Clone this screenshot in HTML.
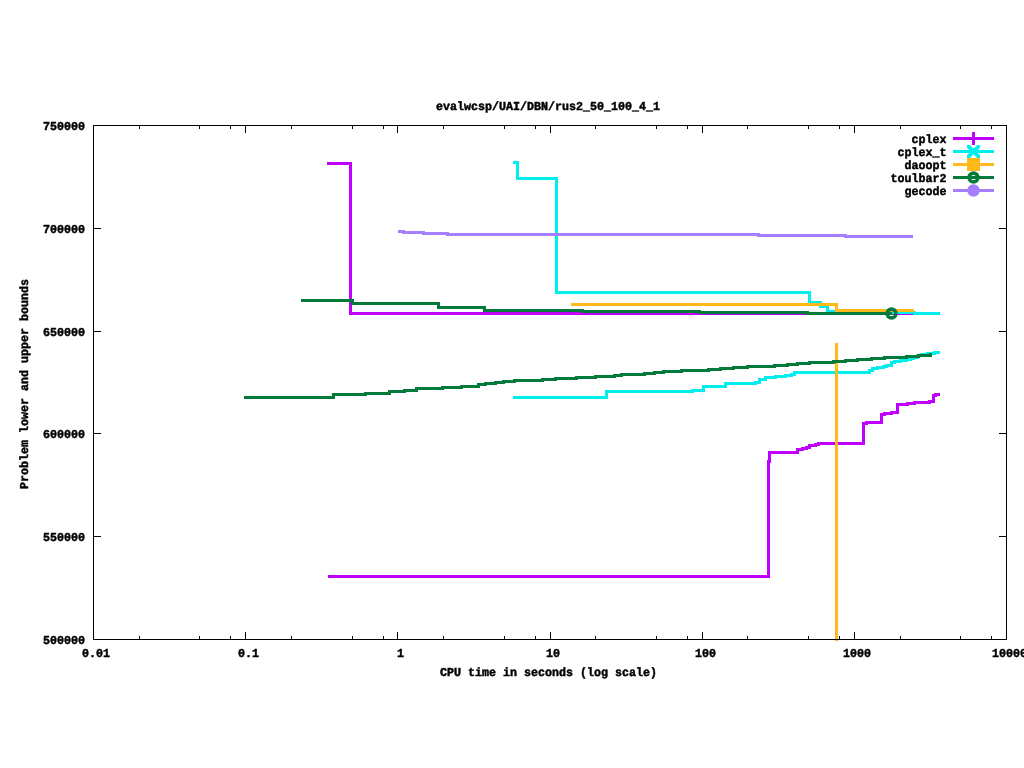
<!DOCTYPE html>
<html lang="en"><head><meta charset="utf-8"><title>evalwcsp/UAI/DBN/rus2_50_100_4_1</title>
<style>html,body{margin:0;padding:0;background:#fff;overflow:hidden}svg{display:block}text{font-family:"Liberation Mono","DejaVu Sans Mono",monospace;font-weight:bold;font-size:12px;fill:#000;stroke:#000;stroke-width:0.45px;text-rendering:geometricPrecision}.ln{fill:none;stroke-width:3;stroke-linejoin:miter;stroke-linecap:butt;shape-rendering:crispEdges}.ax{fill:#000;shape-rendering:crispEdges}</style></head><body>
<svg width="1024" height="768" viewBox="0 0 1024 768">
<rect width="1024" height="768" fill="#fff"/>
<path class="ln" stroke="#BF00FF" d="M327 163.5 H350.5 V313.5 H913"/>
<path class="ln" stroke="#BF00FF" d="M328 576.5 H768.5 V461.5 H769.5 V452.5 H797.5 V449.5 H802.5 V448.5 H806.5 V447.5 H809.5 V445.5 H815.5 V444.5 H818.5 V443.5 H863.5 V423.5 H866.5 V422.5 H881.5 V414.5 H884.5 V413.5 H891.5 V412.5 H897.5 V404.5 H907.5 V403.5 H914.5 V402.5 H929.5 V401.5 H933.5 V395.5 H935.5 V394.5 H940"/>
<path class="ln" stroke="#00EEEE" d="M513 162.5 H517.5 V178.5 H556.5 V292.5 H809.5 V302.5 H820.5 V306.5 H827.5 V311.5 H870 V312.5 H914.5 V313.5 H940"/>
<path class="ln" stroke="#00EEEE" d="M513 397.5 H606.5 V391.5 H692.5 V390.5 H703.5 V386.5 H725.5 V383.5 H755.5 V382.5 H759.5 V379.5 H765.5 V377.5 H775.5 V376.5 H785.5 V375.5 H791.5 V374.5 H794.5 V372.5 H869.5 V370.5 H872.5 V368.5 H877.5 V367.5 H883.5 V366.5 H886.5 V365.5 H891.5 V362.5 H894.5 V361.5 H900 V360.5 H906.5 V359.5 H910 V358.5 H913.5 V357.5 H917 V355.5 H921 V354.5 H927.5 V353.5 H934.5 V352.5 H940"/>
<path class="ln" stroke="#FFB91A" d="M571 304.5 H836.5 V310.5 H914"/>
<path class="ln" stroke="#FFB91A" d="M836.5 343 V641"/>
<path class="ln" stroke="#047A3A" d="M301 300.5 H352.5 V303.5 H438 V307.5 H484 V310.5 H582.5 V311.5 H699.5 V312.5 H807.5 V313.5 H891.5"/>
<path class="ln" stroke="#047A3A" d="M244 397.5 H333.5 V394.5 H365.5 V393.5 H389.5 V391.5 H404.5 V390.5 H416.5 V388.5 H442.5 V387.5 H461.5 V386.5 H478.5 V384.5 H485.5 V383.5 H495.5 V382.5 H503.5 V381.5 H514.5 V380.5 H542.5 V379.5 H555.5 V378.5 H576.5 V377.5 H595.5 V376.5 H614 V375.5 H621 V374.5 H644.5 V373.5 H654.5 V372.5 H663 V371.5 H681.5 V370.5 H708.5 V369.5 H720.5 V368.5 H733.5 V367.5 H747.5 V366.5 H774.5 V365.5 H787.5 V364.5 H797.5 V363.5 H809.5 V362.5 H833.5 V361.5 H845.5 V360.5 H857.5 V359.5 H871.5 V358.5 H884.5 V357.5 H906.5 V356.5 H918.5 V355.5 H930.5 V354.5 H932"/>
<circle cx="891.5" cy="313.5" r="4.4" fill="none" stroke="#047A3A" stroke-width="3.6"/>
<path class="ln" stroke="#A47FFF" d="M398 231.5 H403 V232.5 H423 V233.5 H447 V234.5 H758 V235.5 H845 V236.5 H913"/>
<path class="ln" stroke="#BF00FF" d="M953 138.5 H994"/>
<text x="911.5" y="143" textLength="35" lengthAdjust="spacingAndGlyphs">cplex</text>
<path class="ln" stroke="#00EEEE" d="M953 151.5 H994"/>
<text x="897.5" y="156" textLength="49" lengthAdjust="spacingAndGlyphs">cplex_t</text>
<path class="ln" stroke="#FFB91A" d="M953 164.5 H994"/>
<text x="904.5" y="169" textLength="42" lengthAdjust="spacingAndGlyphs">daoopt</text>
<path class="ln" stroke="#047A3A" d="M953 177.5 H994"/>
<text x="890.5" y="182" textLength="56" lengthAdjust="spacingAndGlyphs">toulbar2</text>
<path class="ln" stroke="#A47FFF" d="M953 190.5 H994"/>
<text x="904.5" y="195" textLength="42" lengthAdjust="spacingAndGlyphs">gecode</text>
<path class="ln" stroke="#BF00FF" d="M973.5 132 V145"/>
<clipPath id="xc"><rect x="967" y="145" width="13" height="13"/></clipPath>
<path clip-path="url(#xc)" fill="none" stroke="#00EEEE" stroke-width="4" d="M965.5 143.5 L981.5 159.5 M965.5 159.5 L981.5 143.5"/>
<rect class="ax" style="fill:#FFB91A" x="967" y="158" width="13" height="13"/>
<circle cx="973.5" cy="177.5" r="4.4" fill="none" stroke="#047A3A" stroke-width="3.6"/>
<circle cx="973.5" cy="190.5" r="6.2" fill="#A47FFF"/>
<path class="ax" d="M93 125 h914 v1 h-914 z M93 639 h914 v1 h-914 z M93 125 h1 v515 h-1 z M1006 125 h1 v515 h-1 z"/>
<path class="ax" d="M139 125 h1 v4 h-1 z M139 636 h1 v4 h-1 z M199 125 h1 v4 h-1 z M199 636 h1 v4 h-1 z M230 125 h1 v4 h-1 z M230 636 h1 v4 h-1 z M245 125 h1 v8 h-1 z M245 632 h1 v8 h-1 z M291 125 h1 v4 h-1 z M291 636 h1 v4 h-1 z M352 125 h1 v4 h-1 z M352 636 h1 v4 h-1 z M383 125 h1 v4 h-1 z M383 636 h1 v4 h-1 z M397 125 h1 v8 h-1 z M397 632 h1 v8 h-1 z M443 125 h1 v4 h-1 z M443 636 h1 v4 h-1 z M504 125 h1 v4 h-1 z M504 636 h1 v4 h-1 z M535 125 h1 v4 h-1 z M535 636 h1 v4 h-1 z M550 125 h1 v8 h-1 z M550 632 h1 v8 h-1 z M595 125 h1 v4 h-1 z M595 636 h1 v4 h-1 z M656 125 h1 v4 h-1 z M656 636 h1 v4 h-1 z M687 125 h1 v4 h-1 z M687 636 h1 v4 h-1 z M702 125 h1 v8 h-1 z M702 632 h1 v8 h-1 z M747 125 h1 v4 h-1 z M747 636 h1 v4 h-1 z M808 125 h1 v4 h-1 z M808 636 h1 v4 h-1 z M839 125 h1 v4 h-1 z M839 636 h1 v4 h-1 z M854 125 h1 v8 h-1 z M854 632 h1 v8 h-1 z M900 125 h1 v4 h-1 z M900 636 h1 v4 h-1 z M960 125 h1 v4 h-1 z M960 636 h1 v4 h-1 z M991 125 h1 v4 h-1 z M991 636 h1 v4 h-1 z M93 536 h8 v1 h-8 z M999 536 h8 v1 h-8 z M93 433 h8 v1 h-8 z M999 433 h8 v1 h-8 z M93 331 h8 v1 h-8 z M999 331 h8 v1 h-8 z M93 228 h8 v1 h-8 z M999 228 h8 v1 h-8 z"/>
<text x="43" y="644" textLength="42" lengthAdjust="spacingAndGlyphs">500000</text>
<text x="43" y="541" textLength="42" lengthAdjust="spacingAndGlyphs">550000</text>
<text x="43" y="438" textLength="42" lengthAdjust="spacingAndGlyphs">600000</text>
<text x="43" y="336" textLength="42" lengthAdjust="spacingAndGlyphs">650000</text>
<text x="43" y="233" textLength="42" lengthAdjust="spacingAndGlyphs">700000</text>
<text x="43" y="130" textLength="42" lengthAdjust="spacingAndGlyphs">750000</text>
<text x="82" y="657" textLength="28" lengthAdjust="spacingAndGlyphs">0.01</text>
<text x="238" y="657" textLength="21" lengthAdjust="spacingAndGlyphs">0.1</text>
<text x="397" y="657" textLength="7" lengthAdjust="spacingAndGlyphs">1</text>
<text x="546" y="657" textLength="14" lengthAdjust="spacingAndGlyphs">10</text>
<text x="695" y="657" textLength="21" lengthAdjust="spacingAndGlyphs">100</text>
<text x="843" y="657" textLength="28" lengthAdjust="spacingAndGlyphs">1000</text>
<text x="992" y="657" textLength="35" lengthAdjust="spacingAndGlyphs">10000</text>
<text x="436" y="110" textLength="224" lengthAdjust="spacingAndGlyphs">evalwcsp/UAI/DBN/rus2_50_100_4_1</text>
<text x="440" y="676" textLength="217" lengthAdjust="spacingAndGlyphs">CPU time in seconds (log scale)</text>
<text transform="translate(28 489) rotate(-90)" x="0" y="0" textLength="210" lengthAdjust="spacingAndGlyphs">Problem lower and upper bounds</text>
</svg></body></html>
